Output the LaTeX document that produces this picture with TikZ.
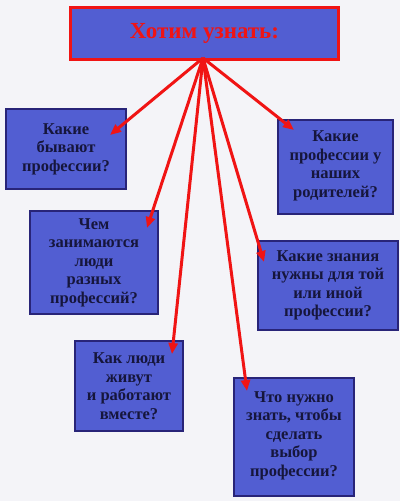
\documentclass[tikz,border=0pt]{standalone}
\usepackage{fontspec}
\setmainfont{Liberation Serif}
\usetikzlibrary{arrows.meta}
\definecolor{bg}{RGB}{244,244,248}
\definecolor{boxfill}{RGB}{82,94,210}
\definecolor{boxline}{RGB}{40,36,120}
\definecolor{txt}{RGB}{22,22,60}
\definecolor{redline}{RGB}{240,20,20}
\tikzset{
  qbox/.style={draw=boxline, line width=2pt, fill=boxfill, text=txt, font=\bfseries\fontsize{16.5}{18.5}\selectfont, align=center, inner sep=0pt, anchor=north west},
  titlebox/.style={draw=redline, line width=3pt, fill=boxfill, text=redline, font=\bfseries\fontsize{23}{26}\selectfont, align=center, inner sep=0pt, anchor=north west},
  arr/.style={draw=redline, line width=3pt, -{Triangle[length=11pt,width=9pt]}},
}
\begin{document}
\begin{tikzpicture}[x=1pt,y=-1pt]
\fill[bg] (0,0) rectangle (400,501);
\useasboundingbox (0,0) rectangle (400,501);
\node[titlebox, minimum width=268pt, minimum height=52pt] (top) at (69,6) {Хотим узнать:};
\node[qbox, minimum width=120pt, minimum height=80pt] (b1) at (5,108) {Какие\\бывают\\профессии?};
\node[qbox, minimum width=115pt, minimum height=94pt] (b2) at (277,119) {Какие\\профессии у\\наших\\родителей?\rule[-6pt]{0pt}{1pt}};
\node[qbox, minimum width=128pt, minimum height=103pt] (b3) at (29,210) {Чем\\занимаются\\люди\\разных\\профессий?};
\node[qbox, minimum width=140pt, minimum height=89pt] (b4) at (257,240) {Какие знания\\нужны для той\\или иной\\профессии?};
\node[qbox, minimum width=108pt, minimum height=90pt] (b5) at (74,340) {Как люди\\живут\\и работают\\вместе?};
\node[qbox, minimum width=120pt, minimum height=118pt] (b6) at (233,377) {Что нужно\\знать, чтобы\\сделать\\выбор\\профессии?\rule[-6pt]{0pt}{1pt}};
\coordinate (o) at (203,58);
\coordinate (t1) at (110,135);
\coordinate (t2) at (294,130);
\coordinate (t3) at (147,228);
\coordinate (t4) at (264,262);
\coordinate (t5) at (172,354);
\coordinate (t6) at (247,391);
\foreach \t in {t1,t2,t3,t4,t5,t6} \draw[arr] (o) -- (\t);
\end{tikzpicture}
\end{document}
